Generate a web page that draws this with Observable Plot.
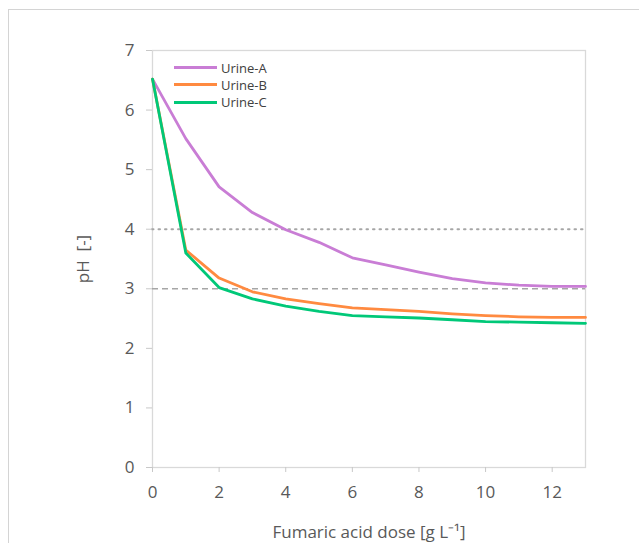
<!DOCTYPE html>
<html><head><meta charset="utf-8">
<script src="https://cdn.jsdelivr.net/npm/d3@7"></script>
<script src="https://cdn.jsdelivr.net/npm/@observablehq/plot@0.6"></script>
<style>
body{margin:0;background:#fff;font-family:"Open Sans",sans-serif;}
#wrap{position:relative;width:639px;height:543px;overflow:hidden;background:#fff;}
#border{position:absolute;left:8px;top:9px;width:700px;height:600px;border-left:1.5px solid #d4d4d4;border-top:1.5px solid #d4d4d4;}
#chart{position:absolute;left:0;top:0;}
#legend{position:absolute;left:174px;top:59px;font-size:13px;color:#404040;}
.item{display:flex;align-items:center;height:17.3px;}
.sw{width:43px;height:3px;margin-right:4px;}
</style></head>
<body><div id="wrap"><div id="border"></div><div id="chart"></div><div id="legend"></div></div>
<script>
const doses  = [0, 1, 2, 3, 4, 5, 6, 7, 8, 9, 10, 11, 12, 13];
const urineA = [6.52, 5.52, 4.71, 4.28, 3.99, 3.78, 3.52, 3.40, 3.28, 3.17, 3.10, 3.06, 3.04, 3.04];
const urineB = [6.52, 3.65, 3.18, 2.95, 2.83, 2.75, 2.68, 2.65, 2.62, 2.58, 2.55, 2.53, 2.52, 2.52];
const urineC = [6.52, 3.60, 3.02, 2.83, 2.71, 2.62, 2.55, 2.53, 2.51, 2.48, 2.45, 2.44, 2.43, 2.42];
const seriesNames = ["Urine-A", "Urine-B", "Urine-C"];
const seriesColors = ["#c97dd5", "#ff8a40", "#00c878"];
const xTicks = [0, 2, 4, 6, 8, 10, 12];
const yTicks = [0, 1, 2, 3, 4, 5, 6, 7];
const dottedRef = [4];
const dashedRef = [3];

const allSeries = [urineA, urineB, urineC];
const rows = [];
allSeries.forEach((vals, i) => vals.forEach((v, j) => rows.push({series: seriesNames[i], dose: doses[j], pH: v})));

const chart = Plot.plot({
  width: 639, height: 543,
  marginLeft: 152, marginRight: 54, marginTop: 50, marginBottom: 76,
  style: {background: "transparent", fontFamily: "Open Sans, sans-serif", fontSize: "17px", color: "#595959"},
  x: {domain: [0, 13]},
  y: {domain: [0, 7]},
  color: {domain: seriesNames, range: seriesColors},
  marks: [
    Plot.frame({stroke: "#d9d9d9", strokeWidth: 1.3}),
    Plot.ruleY(dottedRef, {stroke: "#a6a6a6", strokeWidth: 2, strokeDasharray: "1.5,5", strokeLinecap: "round"}),
    Plot.ruleY(dashedRef, {stroke: "#a6a6a6", strokeWidth: 1.5, strokeDasharray: "6,4"}),
    Plot.axisX(xTicks, {tickSize: 5, tickPadding: 13, stroke: "#c8c8c8", fill: "#595959", fontSize: 17, tickFormat: "d",
      label: "Fumaric acid dose [g L⁻¹]", labelAnchor: "center", labelArrow: "none", labelOffset: 70}),
    Plot.axisY(yTicks, {tickSize: 6, tickPadding: 12, stroke: "#c8c8c8", fill: "#595959", fontSize: 17, tickFormat: "d",
      label: "pH  [-]", labelAnchor: "center", labelArrow: "none", labelOffset: 76}),
    Plot.line(rows, {x: "dose", y: "pH", z: "series", stroke: "series", strokeWidth: 2.8, curve: "linear"})
  ]
});
document.getElementById("chart").appendChild(chart);

const legend = document.getElementById("legend");
seriesNames.forEach((n, i) => {
  const d = document.createElement("div"); d.className = "item";
  d.innerHTML = `<span class="sw" style="background:${seriesColors[i]}"></span><span>${n}</span>`;
  legend.appendChild(d);
});
</script>
</body></html>
